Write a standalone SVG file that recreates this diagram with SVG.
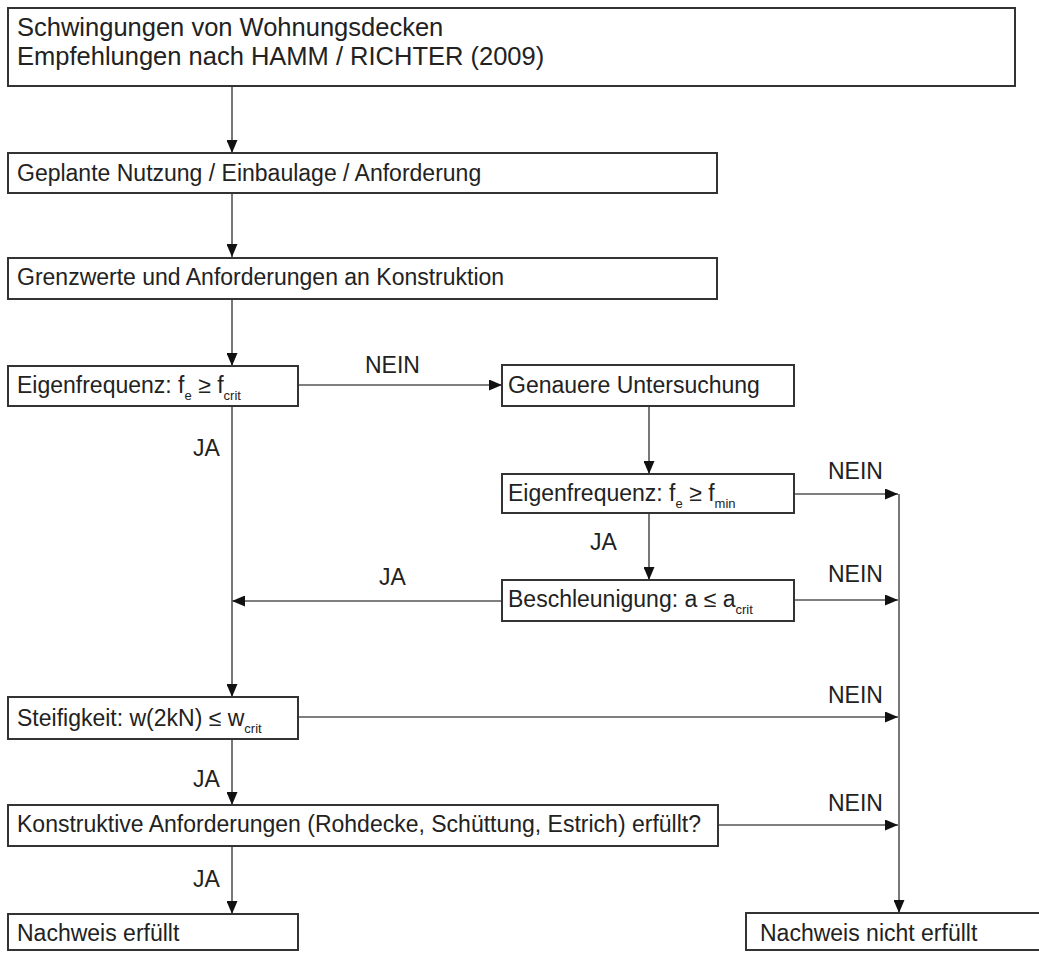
<svg xmlns="http://www.w3.org/2000/svg" width="1039" height="953" viewBox="0 0 1039 953">
<defs>
<style>
.box{fill:#fff;stroke:#333;stroke-width:2}
.t{font-family:"Liberation Sans",Arial,sans-serif;font-size:23px;fill:#222}
.title{font-size:25.5px}
.sub{font-size:13px}
.c{fill:none;stroke:#555;stroke-width:1.6}
</style>
<marker id="ah" markerUnits="userSpaceOnUse" markerWidth="14" markerHeight="11" refX="13" refY="5.5" orient="auto">
<path d="M0,0 L13,5.5 L0,11 z" fill="#111"/>
</marker>
</defs>
<rect width="1039" height="953" fill="#fff"/>
<g id="connectors">
<line class="c" x1="232" y1="86" x2="232" y2="153" marker-end="url(#ah)"/>
<line class="c" x1="232" y1="193" x2="232" y2="257" marker-end="url(#ah)"/>
<line class="c" x1="232" y1="299" x2="232" y2="366" marker-end="url(#ah)"/>
<line class="c" x1="298" y1="385" x2="502" y2="385" marker-end="url(#ah)"/>
<line class="c" x1="649" y1="406" x2="649" y2="474" marker-end="url(#ah)"/>
<line class="c" x1="794" y1="494" x2="898" y2="494" marker-end="url(#ah)"/>
<line class="c" x1="649" y1="513" x2="649" y2="580" marker-end="url(#ah)"/>
<line class="c" x1="794" y1="600" x2="898" y2="600" marker-end="url(#ah)"/>
<line class="c" x1="502" y1="601" x2="232" y2="601" marker-end="url(#ah)"/>
<line class="c" x1="232" y1="406" x2="232" y2="697" marker-end="url(#ah)"/>
<line class="c" x1="298" y1="717" x2="898" y2="717" marker-end="url(#ah)"/>
<line class="c" x1="232" y1="739" x2="232" y2="805" marker-end="url(#ah)"/>
<line class="c" x1="718" y1="825" x2="898" y2="825" marker-end="url(#ah)"/>
<line class="c" x1="232" y1="846" x2="232" y2="914" marker-end="url(#ah)"/>
<line class="c" x1="899" y1="494" x2="899" y2="913" marker-end="url(#ah)"/>
<text class="t" x="365" y="373">NEIN</text>
<text class="t" x="193" y="456">JA</text>
<text class="t" x="828" y="479">NEIN</text>
<text class="t" x="590" y="550">JA</text>
<text class="t" x="379" y="585">JA</text>
<text class="t" x="828" y="582">NEIN</text>
<text class="t" x="828" y="703">NEIN</text>
<text class="t" x="193" y="787">JA</text>
<text class="t" x="828" y="811">NEIN</text>
<text class="t" x="193" y="887">JA</text>
</g>
<g id="n1">
<rect class="box" x="8" y="8" width="1007" height="78"/>
<text class="t title" x="17" y="36">Schwingungen von Wohnungsdecken</text>
<text class="t title" x="17" y="65">Empfehlungen nach HAMM / RICHTER (2009)</text>
</g>
<g id="n2">
<rect class="box" x="8" y="153" width="709" height="40"/>
<text class="t" x="17" y="181">Geplante Nutzung / Einbaulage / Anforderung</text>
</g>
<g id="n3">
<rect class="box" x="8" y="258" width="709" height="41"/>
<text class="t" x="17" y="285">Grenzwerte und Anforderungen an Konstruktion</text>
</g>
<g id="n4">
<rect class="box" x="8" y="366" width="290" height="40"/>
<text class="t" x="17" y="393">Eigenfrequenz: f<tspan class="sub" dy="7">e</tspan><tspan dy="-7"> ≥ f</tspan><tspan class="sub" dy="7">crit</tspan></text>
</g>
<g id="n5">
<rect class="box" x="502" y="365" width="292" height="41"/>
<text class="t" x="508" y="393">Genauere Untersuchung</text>
</g>
<g id="n6">
<rect class="box" x="502" y="474" width="292" height="39"/>
<text class="t" x="508" y="501">Eigenfrequenz: f<tspan class="sub" dy="7">e</tspan><tspan dy="-7"> ≥ f</tspan><tspan class="sub" dy="7">min</tspan></text>
</g>
<g id="n7">
<rect class="box" x="502" y="580" width="292" height="41"/>
<text class="t" x="508" y="607">Beschleunigung: a ≤ a<tspan class="sub" dy="7">crit</tspan></text>
</g>
<g id="n8">
<rect class="box" x="8" y="697" width="290" height="42"/>
<text class="t" x="17" y="726">Steifigkeit: w(2kN) ≤ w<tspan class="sub" dy="7">crit</tspan></text>
</g>
<g id="n9">
<rect class="box" x="8" y="805" width="710" height="41"/>
<text class="t" x="17" y="832">Konstruktive Anforderungen (Rohdecke, Schüttung, Estrich) erfüllt?</text>
</g>
<g id="n10">
<rect class="box" x="8" y="914" width="290" height="36"/>
<text class="t" x="17" y="941">Nachweis erfüllt</text>
</g>
<g id="n11">
<rect class="box" x="746" y="913" width="300" height="37"/>
<text class="t" x="760" y="941">Nachweis nicht erfüllt</text>
</g>
</svg>
